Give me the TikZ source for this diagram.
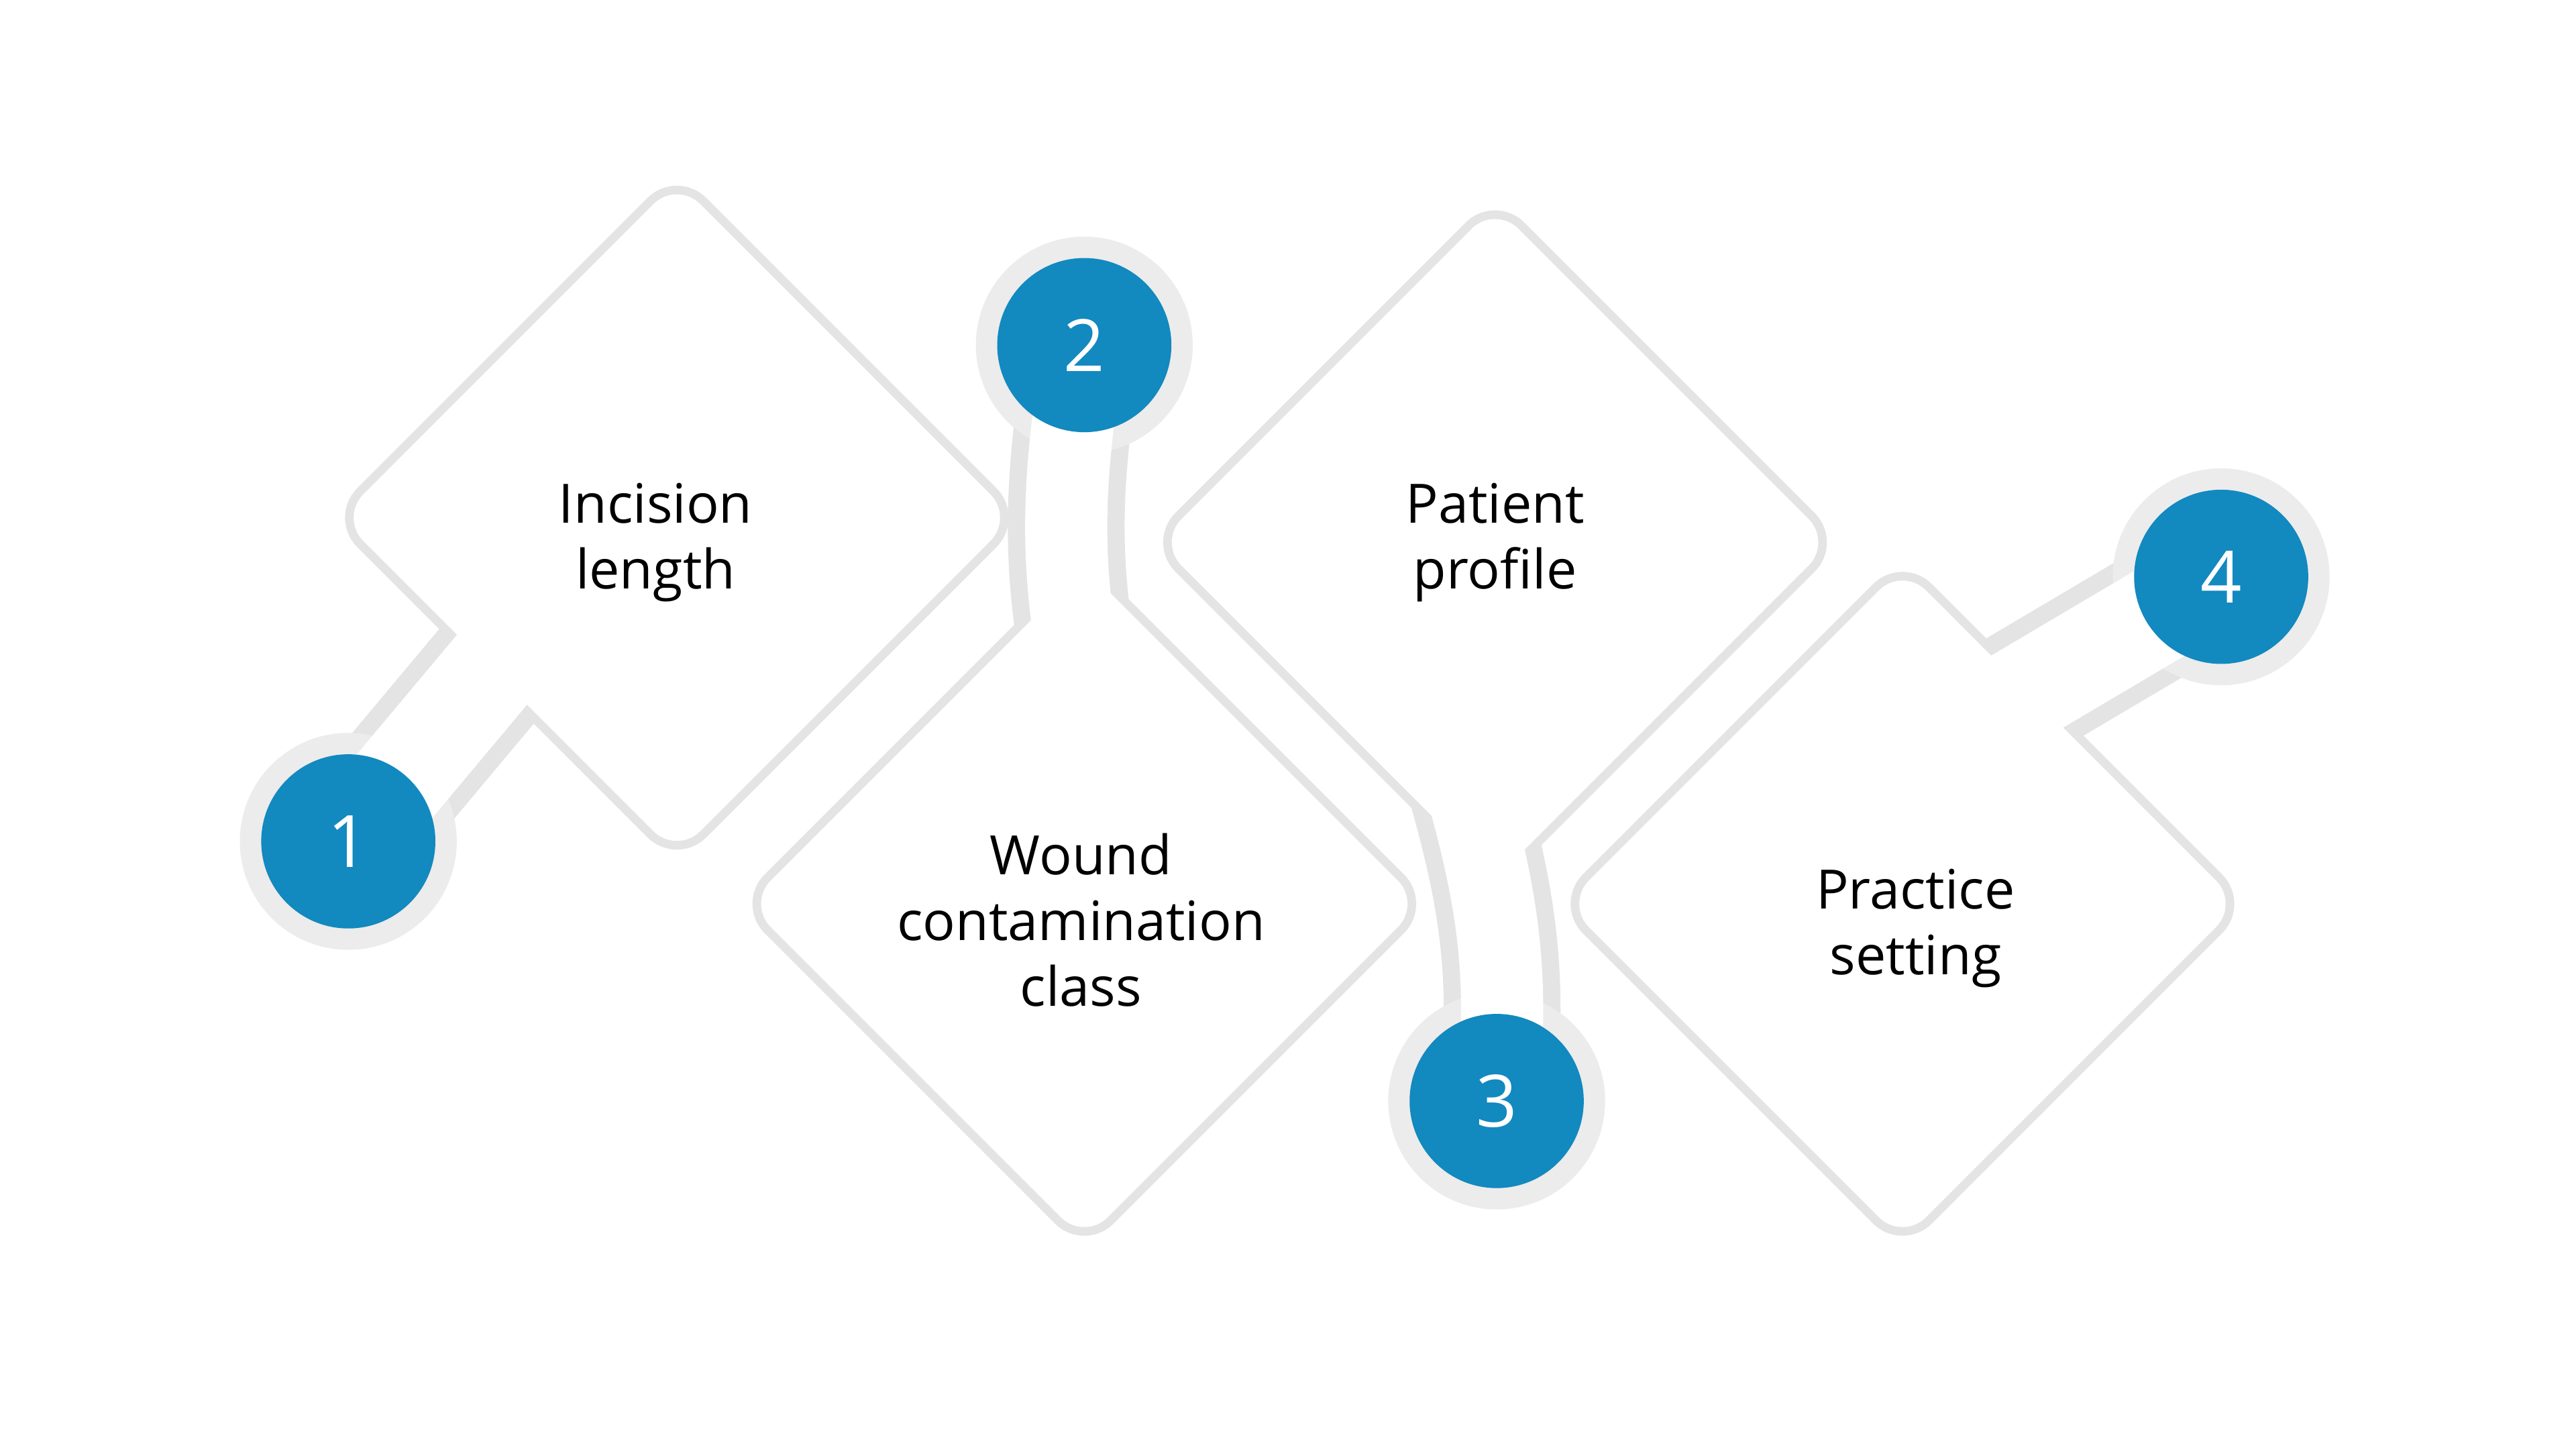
\documentclass[tikz,border=0pt]{standalone}
\usepackage{fontspec}
\setmainfont{Open Sans}
\usetikzlibrary{calc}
\definecolor{numblue}{HTML}{1289BF}
\definecolor{rim}{HTML}{E4E4E4}
\tikzset{
  tile/.style={rounded corners=0.2cm},
  label/.style={align=center, font=\fontsize{9.4}{11.4}\selectfont, text=black},
  num/.style={font=\fontsize{12.5}{14}\selectfont, text=white},
}
\newcommand{\tilepath}[2]{(#1,#2+2.05) -- (#1+2.05,#2) -- (#1,#2-2.05) -- (#1-2.05,#2) -- cycle}
\begin{document}
\begin{tikzpicture}[y=-1cm]
    \useasboundingbox (0,0) rectangle (15.68,8.82);
    \fill[white] (0,0) rectangle (15.68,8.82);

    % rim (shadow) under everything
    \begin{scope}[draw=rim, line width=3pt]
    \draw[tile] \tilepath{4.12}{3.15};
    \draw[tile] \tilepath{6.6}{5.5};
    \draw[tile] \tilepath{9.1}{3.3};
    \draw[tile] \tilepath{11.58}{5.5};
    \draw[line width=0.6cm+6pt] (2.12,5.12) -- (3.1,3.95);
    \draw[line width=0.5cm+6pt] (6.6,2.1) .. controls (6.45,3.0) and (6.45,3.5) .. (6.62,4.3);
    \draw[line width=0.5cm+6pt] (9.11,6.7) .. controls (9.2,5.9) and (9.1,5.4) .. (8.9,4.7);
    \draw[line width=0.6cm+6pt] (13.52,3.51) -- (12.1,4.35);
    \fill[rim!70] (2.12,5.12) circle (0.66);
    \fill[rim!70] (6.6,2.1) circle (0.66);
    \fill[rim!70] (9.11,6.7) circle (0.66);
    \fill[rim!70] (13.52,3.51) circle (0.66);
    \end{scope}

    % white faces
    \fill[white, tile] \tilepath{4.12}{3.15};
    \fill[white, tile] \tilepath{6.6}{5.5};
    \fill[white, tile] \tilepath{9.1}{3.3};
    \fill[white, tile] \tilepath{11.58}{5.5};
    \begin{scope}[draw=white]
    \draw[line width=0.6cm] (2.12,5.12) -- (3.1,3.95);
    \draw[line width=0.5cm] (6.6,2.1) .. controls (6.45,3.0) and (6.45,3.5) .. (6.62,4.3);
    \draw[line width=0.5cm] (9.11,6.7) .. controls (9.2,5.9) and (9.1,5.4) .. (8.9,4.7);
    \draw[line width=0.6cm] (13.52,3.51) -- (12.1,4.35);
    \end{scope}

    % numbered circles
    \node[circle, fill=numblue, minimum size=1.06cm, num] (n1) at (2.12,5.12) {1};
    \node[circle, fill=numblue, minimum size=1.06cm, num] (n2) at (6.6,2.1) {2};
    \node[circle, fill=numblue, minimum size=1.06cm, num] (n3) at (9.11,6.7) {3};
    \node[circle, fill=numblue, minimum size=1.06cm, num] (n4) at (13.52,3.51) {4};

    % labels
    \node[label] (incision) at (3.99,3.3) {Incision\\length};
    \node[label] (wound) at (6.58,5.6) {Wound\\contamination\\class};
    \node[label] (patient) at (9.1,3.3) {Patient\\profile};
    \node[label] (practice) at (11.66,5.65) {Practice\\setting};
\end{tikzpicture}
\end{document}
